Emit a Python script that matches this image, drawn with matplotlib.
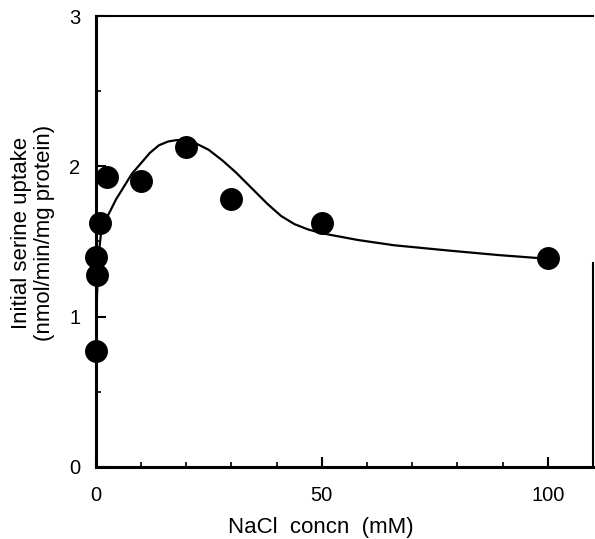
import matplotlib
matplotlib.use("Agg")
import matplotlib.pyplot as plt

# measured points (NaCl mM vs initial serine uptake)
nacl_mm = [0, 0.05, 0.4, 1, 2.5, 10, 20, 30, 50, 100]
uptake = [0.77, 1.40, 1.28, 1.62, 1.93, 1.905, 2.13, 1.78, 1.625, 1.39]

# fitted curve
fit_x = [0, 0.3, 0.7, 1.2, 2.5, 4.5, 8, 12, 14, 16, 18, 20, 22, 25, 28, 31, 34, 38, 41, 44, 47, 50,
         58, 66, 78, 89, 100]
fit_y = [0.77, 1.15, 1.42, 1.56, 1.66, 1.78, 1.95, 2.09, 2.14, 2.165, 2.175, 2.17, 2.155, 2.11, 2.04,
         1.96, 1.87, 1.75, 1.67, 1.615, 1.58, 1.555, 1.51, 1.475, 1.44, 1.41, 1.385]

x_major = [0, 50, 100]
x_minor = [10, 20, 30, 40, 60, 70, 80, 90]
y_major = [0, 1, 2, 3]
y_minor = [0.5, 1.5, 2.5]

plt.rcParams["font.family"] = ["Liberation Sans", "DejaVu Sans"]

fig = plt.figure(figsize=(5.95, 5.39), dpi=100)
ax = fig.add_axes([0.1608, 0.1336, 0.8358, 0.8367])

ax.plot(fit_x, fit_y, color="black", lw=1.6, zorder=2)
ax.plot(nacl_mm, uptake, "o", color="black", ms=15.5, zorder=3, clip_on=False)

ax.set_xlim(0, 110)
ax.set_ylim(0, 3)

ax.set_xticks(x_major)
ax.set_xticks(x_minor, minor=True)
ax.set_yticks(y_major)
ax.set_yticks(y_minor, minor=True)

ax.tick_params(which="major", direction="in", length=7, width=1.5, labelsize=14.5, pad=14)
ax.tick_params(which="minor", direction="in", length=3.5, width=1.2)
ax.tick_params(axis="y", which="major", pad=11)

for side in ["left", "bottom"]:
    ax.spines[side].set_linewidth(2.2)
ax.spines["top"].set_linewidth(1.5)
ax.spines["right"].set_linewidth(1.5)
# the right edge of the scan is only visible near the bottom
ax.spines["right"].set_bounds(0, 1.36)

ax.set_xlabel("NaCl  concn  (mM)", fontsize=16)
ax.xaxis.set_label_coords(0.453, -0.111)
fig.text(0.0555, 0.568, "Initial serine uptake\n(nmol/min/mg protein)", rotation=90,
         ha="center", va="center", multialignment="center", fontsize=16, linespacing=1.15)

fig.savefig("out.png", dpi=100)
plt.close(fig)
